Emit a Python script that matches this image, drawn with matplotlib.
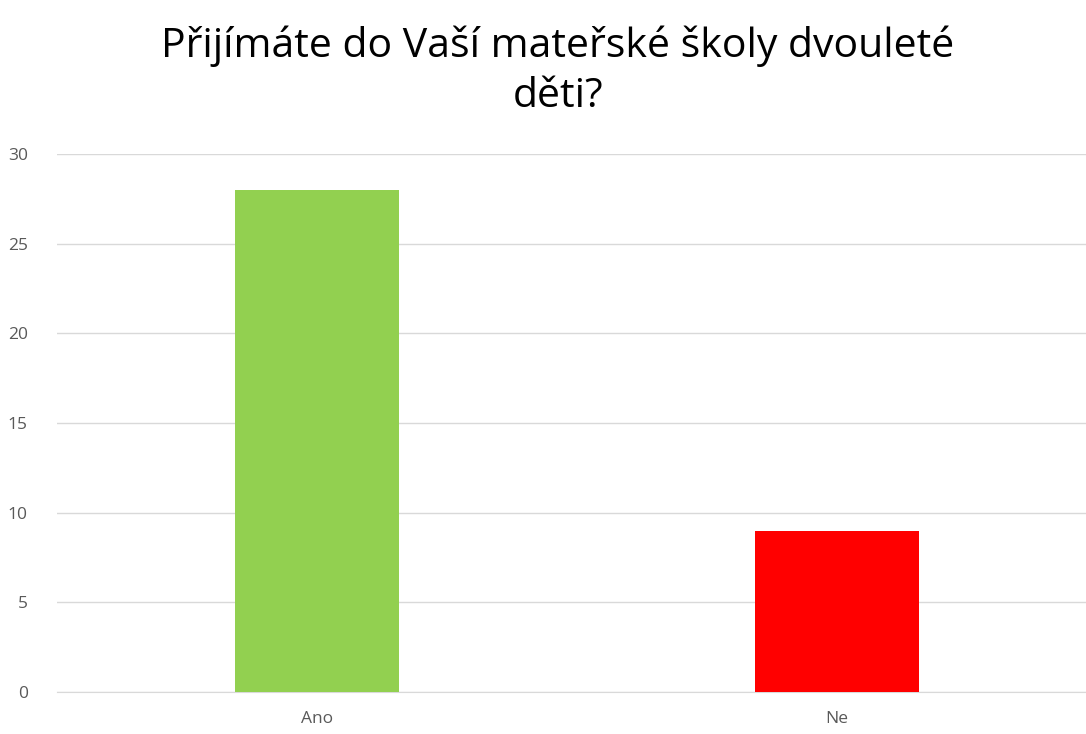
import matplotlib
matplotlib.use("Agg")
import matplotlib.pyplot as plt

categories = ["Ano", "Ne"]
values = [28, 9]
colors = ["#92D050", "#FF0000"]
title = "Přijímáte do Vaší mateřské školy dvouleté\nděti?"

plt.rcParams['font.family'] = ['Open Sans', 'DejaVu Sans']

fig = plt.figure(figsize=(10.86, 7.34), dpi=100)
ax = fig.add_axes([57/1086, 42/734, 1 - 57/1086, (692-154)/734])

x = list(range(len(categories)))
ax.bar(x, values, width=0.315, color=colors, zorder=3)
ax.set_xlim(-0.5, -0.5 + 1029/520)
ax.set_ylim(0, 30)
ax.set_yticks([0, 5, 10, 15, 20, 25, 30])
ax.set_xticks(x)
ax.set_xticklabels(categories)
ax.grid(axis='y', color='#D9D9D9', linewidth=1, zorder=0)
for s in ax.spines.values():
    s.set_visible(False)
ax.spines['bottom'].set_visible(True)
ax.spines['bottom'].set_color('#D9D9D9')
ax.tick_params(axis='both', length=0, colors='#595959', labelsize=12.5)
ax.tick_params(axis='y', pad=21)
ax.tick_params(axis='x', pad=14)

fig.text(558/1086, 1 - 71/734, title, ha='center', va='center', fontsize=29.5,
         color='black', linespacing=1.3)

fig.savefig("out.png", dpi=100)
